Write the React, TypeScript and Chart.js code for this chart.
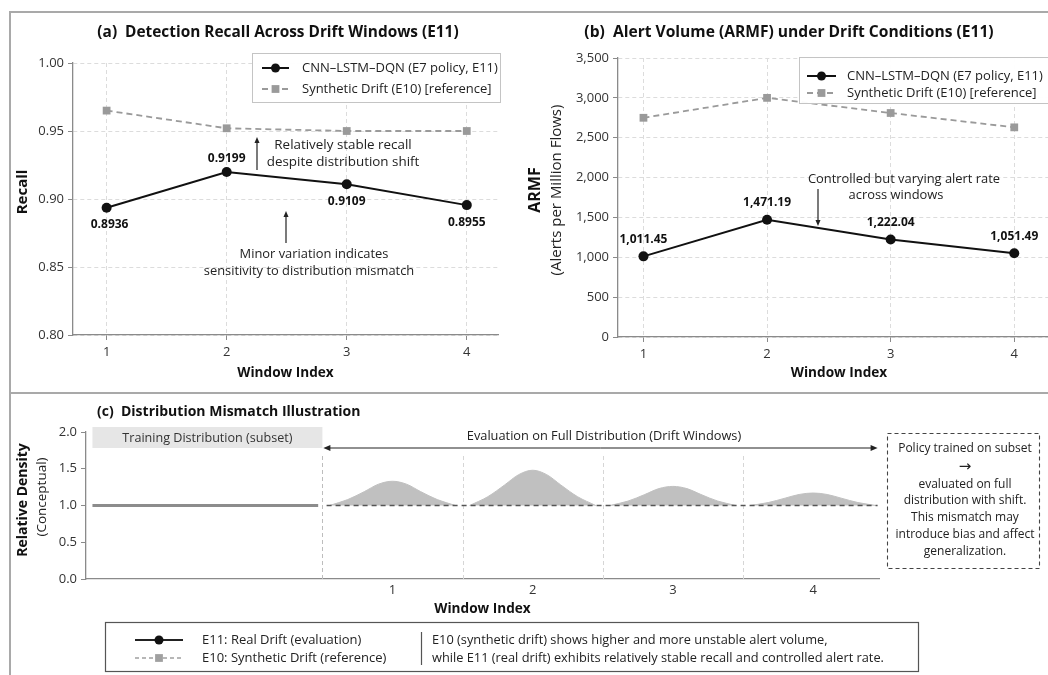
import React, { useEffect, useRef } from "react";
import { Chart, registerables } from "chart.js";

Chart.register(...registerables);

// ---------------- data ----------------
const windowIndex = [1, 2, 3, 4];
const recallReal = [0.8936, 0.9199, 0.9109, 0.8955];
const recallSynthetic = [0.965, 0.952, 0.95, 0.95];
const armfReal = [1011.45, 1471.19, 1222.04, 1051.49];
const armfSynthetic = [2750, 3000, 2810, 2630];
const recallTicks = [0.8, 0.85, 0.9, 0.95, 1.0];
const armfTicks = [0, 500, 1000, 1500, 2000, 2500, 3000, 3500];
const densityTicks = [0, 0.5, 1.0, 1.5, 2.0];
// conceptual density of each drift window (offset from window centre -> relative density)
const bumpOffsets = [-0.45, -0.32, -0.2, -0.1, 0, 0.1, 0.2, 0.32, 0.45];
const densityW1 = [1.0, 1.08, 1.19, 1.29, 1.33, 1.29, 1.19, 1.08, 1.0];
const densityW2 = [1.0, 1.12, 1.28, 1.42, 1.48, 1.42, 1.28, 1.12, 1.0];
const densityW3 = [1.0, 1.06, 1.15, 1.23, 1.26, 1.23, 1.15, 1.06, 1.0];
const densityW4 = [1.0, 1.04, 1.1, 1.15, 1.17, 1.15, 1.1, 1.04, 1.0];
const trainingSpan = [-1.14, 0.47];
const evaluationSpan = [0.53, 4.46];
const baselineDensity = 1.0;
const windowBoundaries = [0.5, 1.5, 2.5, 3.5];

const labelReal = "CNN–LSTM–DQN (E7 policy, E11)";
const labelSynthetic = "Synthetic Drift (E10) [reference]";

// ---------------- helpers ----------------
const FONT = '"Open Sans", "Noto Sans", "DejaVu Sans", sans-serif';
const f = (size: number, weight = "normal") => `${weight} ${size}px ${FONT}`;

function txt(ctx: CanvasRenderingContext2D, s: string, x: number, y: number, font: string, color = "#222", align: CanvasTextAlign = "center") {
  ctx.save();
  ctx.font = font;
  ctx.fillStyle = color;
  ctx.textAlign = align;
  ctx.textBaseline = "middle";
  ctx.fillText(s, x, y);
  ctx.restore();
}
function vtxt(ctx: CanvasRenderingContext2D, s: string, x: number, y: number, font: string, color = "#222") {
  ctx.save();
  ctx.translate(x, y);
  ctx.rotate(-Math.PI / 2);
  ctx.font = font;
  ctx.fillStyle = color;
  ctx.textAlign = "center";
  ctx.textBaseline = "middle";
  ctx.fillText(s, 0, 0);
  ctx.restore();
}
function arrow(ctx: CanvasRenderingContext2D, x1: number, y1: number, x2: number, y2: number, color = "#222", head = 6, w = 1.2) {
  const a = Math.atan2(y2 - y1, x2 - x1);
  ctx.save();
  ctx.strokeStyle = color;
  ctx.fillStyle = color;
  ctx.lineWidth = w;
  ctx.beginPath();
  ctx.moveTo(x1, y1);
  ctx.lineTo(x2 - Math.cos(a) * head * 0.7, y2 - Math.sin(a) * head * 0.7);
  ctx.stroke();
  const bx = x2 - head * Math.cos(a), by = y2 - head * Math.sin(a);
  const px = head * 0.42 * Math.sin(a), py = head * 0.42 * Math.cos(a);
  ctx.beginPath();
  ctx.moveTo(x2, y2);
  ctx.lineTo(bx + px, by - py);
  ctx.lineTo(bx - px, by + py);
  ctx.closePath();
  ctx.fill();
  ctx.restore();
}
function sample(ctx: CanvasRenderingContext2D, ds: any, x1: number, x2: number, y: number, dash?: number[]) {
  ctx.save();
  ctx.strokeStyle = ds.borderColor;
  ctx.lineWidth = ds.borderWidth;
  ctx.setLineDash(dash || ds.borderDash || []);
  ctx.beginPath();
  ctx.moveTo(x1, y);
  ctx.lineTo(x2, y);
  ctx.stroke();
  ctx.setLineDash([]);
  ctx.fillStyle = ds.backgroundColor;
  const xm = (x1 + x2) / 2;
  if (ds.pointStyle === "rect") {
    const s = ds.pointRadius * Math.SQRT1_2;
    ctx.fillRect(xm - s, y - s, 2 * s, 2 * s);
  } else {
    ctx.beginPath();
    ctx.arc(xm, y, ds.pointRadius - 0.5, 0, Math.PI * 2);
    ctx.fill();
  }
  ctx.restore();
}
function legendBox(ctx: CanvasRenderingContext2D, chart: any, x: number, y: number, w: number, h: number, rows: number[], sx1: number, sx2: number, tx: number) {
  ctx.save();
  ctx.fillStyle = "rgba(255,255,255,0.95)";
  ctx.fillRect(x, y, w, h);
  ctx.strokeStyle = "#c4c4c4";
  ctx.lineWidth = 1;
  ctx.strokeRect(x + 0.5, y + 0.5, w, h);
  ctx.restore();
  chart.data.datasets.forEach((ds: any, i: number) => {
    sample(ctx, ds, sx1, sx2, rows[i]);
    txt(ctx, ds.label, tx, rows[i], f(13), "#222", "left");
  });
}

const tickFont = { family: FONT, size: 13 };
const gridDashed = { color: "#dcdcdc", lineWidth: 1, tickColor: "#8a8a8a", tickLength: 5, tickWidth: 1, tickBorderDash: [] as number[] };
const borderDashed = { color: "#8a8a8a", width: 1.3, dash: [4, 3] };

function lineDatasets(real: number[], synth: number[]) {
  return [
    {
      label: labelReal,
      data: windowIndex.map((w, i) => ({ x: w, y: real[i] })),
      borderColor: "#111",
      backgroundColor: "#111",
      borderWidth: 2,
      pointStyle: "circle",
      pointRadius: 5,
      pointBorderWidth: 0,
      order: 0,
    },
    {
      label: labelSynthetic,
      data: windowIndex.map((w, i) => ({ x: w, y: synth[i] })),
      borderColor: "#9a9a9a",
      backgroundColor: "#9a9a9a",
      borderWidth: 1.8,
      borderDash: [6, 4],
      pointStyle: "rect",
      pointRadius: 5.5,
      pointBorderWidth: 0,
      order: 1,
    },
  ];
}

// ---------------- chart (a) ----------------
function makeA(): any {
  const overlay = {
    id: "overlayA",
    afterDraw(chart: any) {
      const ctx = chart.ctx as CanvasRenderingContext2D;
      txt(ctx, "(a)  Detection Recall Across Drift Windows (E11)", 278, 33, f(15.4, "bold"), "#111");
      vtxt(ctx, "Recall", 23, 192, f(15, "bold"), "#111");
      legendBox(ctx, chart, 252, 53, 248, 49, [68, 89], 262, 289, 302);
      const meta = chart.getDatasetMeta(0);
      meta.data.forEach((p: any, i: number) => {
        const dy = i === 1 ? -13 : 17;
        txt(ctx, recallReal[i].toFixed(4), p.x + (i === 0 ? 3 : 0), p.y + dy, f(12, "bold"), "#111");
      });
      arrow(ctx, 257, 170, 257, 137);
      txt(ctx, "Relatively stable recall", 343, 145, f(13.4));
      txt(ctx, "despite distribution shift", 343, 162, f(13.4));
      arrow(ctx, 286, 243, 286, 211);
      txt(ctx, "Minor variation indicates", 314, 254, f(12.9));
      txt(ctx, "sensitivity to distribution mismatch", 309, 271, f(12.9));
    },
  };
  return {
    type: "line",
    data: { datasets: lineDatasets(recallReal, recallSynthetic) },
    options: {
      responsive: false,
      animation: false,
      layout: { padding: { left: 0, top: 63, right: 26, bottom: 0 } },
      plugins: { legend: { display: false }, tooltip: { enabled: false } },
      scales: {
        x: {
          type: "linear",
          min: 0.72,
          max: 4.26,
          afterBuildTicks: (s: any) => { s.ticks = windowIndex.map((v) => ({ value: v })); },
          afterFit: (s: any) => { s.height = 58; },
          grid: gridDashed,
          border: borderDashed,
          ticks: { font: tickFont, color: "#333", padding: 4, callback: (v: any) => String(v) },
          title: { display: true, text: "Window Index", font: { family: FONT, size: 13.6, weight: "bold" }, color: "#111", padding: { top: 0, bottom: 12 } },
        },
        y: {
          type: "linear",
          min: 0.8,
          max: 1.0,
          afterBuildTicks: (s: any) => { s.ticks = recallTicks.map((v) => ({ value: v })); },
          afterFit: (s: any) => { s.width = 73; },
          grid: gridDashed,
          border: borderDashed,
          ticks: { font: tickFont, color: "#333", padding: 4, callback: (v: any) => Number(v).toFixed(2) },
        },
      },
    },
    plugins: [overlay],
  };
}

// ---------------- chart (b) ----------------
function makeB(): any {
  const overlay = {
    id: "overlayB",
    afterDraw(chart: any) {
      const ctx = chart.ctx as CanvasRenderingContext2D;
      txt(ctx, "(b)  Alert Volume (ARMF) under Drift Conditions (E11)", 265, 33, f(15.6, "bold"), "#111");
      vtxt(ctx, "ARMF", 11, 190, f(16, "bold"), "#111");
      vtxt(ctx, "(Alerts per Million Flows)", 33, 190, f(15), "#222");
      legendBox(ctx, chart, 275, 57, 280, 46, [76, 93], 283, 312, 323);
      const meta = chart.getDatasetMeta(0);
      meta.data.forEach((p: any, i: number) => {
        txt(ctx, armfReal[i].toLocaleString("en-US", { minimumFractionDigits: 2, maximumFractionDigits: 2 }), p.x, p.y - 17, f(12, "bold"), "#111");
      });
      arrow(ctx, 294, 189, 294, 226);
      txt(ctx, "Controlled but varying alert rate", 380, 179, f(12.9));
      txt(ctx, "across windows", 372, 195, f(12.9));
    },
  };
  return {
    type: "line",
    data: { datasets: lineDatasets(armfReal, armfSynthetic) },
    options: {
      responsive: false,
      animation: false,
      layout: { padding: { left: 0, top: 58, right: 64, bottom: 0 } },
      plugins: { legend: { display: false }, tooltip: { enabled: false } },
      scales: {
        x: {
          type: "linear",
          min: 0.794,
          max: 4.37,
          afterBuildTicks: (s: any) => { s.ticks = windowIndex.map((v) => ({ value: v })); },
          afterFit: (s: any) => { s.height = 56; },
          grid: gridDashed,
          border: borderDashed,
          ticks: { font: tickFont, color: "#333", padding: 4, callback: (v: any) => String(v) },
          title: { display: true, text: "Window Index", font: { family: FONT, size: 13.6, weight: "bold" }, color: "#111", padding: { top: 0, bottom: 12 } },
        },
        y: {
          type: "linear",
          min: 0,
          max: 3500,
          afterBuildTicks: (s: any) => { s.ticks = armfTicks.map((v) => ({ value: v })); },
          afterFit: (s: any) => { s.width = 94; },
          grid: gridDashed,
          border: borderDashed,
          ticks: { font: tickFont, color: "#333", padding: 4, callback: (v: any) => Number(v).toLocaleString("en-US") },
        },
      },
    },
    plugins: [overlay],
  };
}

// ---------------- chart (c) ----------------
function makeC(): any {
  const bumps = [densityW1, densityW2, densityW3, densityW4].map((vals, k) => ({
    label: `Window ${windowIndex[k]}`,
    data: bumpOffsets.map((o, i) => ({ x: windowIndex[k] + o, y: vals[i] })),
    borderColor: "#c0c0c0",
    backgroundColor: "#c0c0c0",
    borderWidth: 1,
    pointRadius: 0,
    cubicInterpolationMode: "monotone",
    fill: { value: baselineDensity },
    order: 2,
  }));
  const overlayBefore = {
    id: "overlayCBefore",
    beforeDatasetsDraw(chart: any) {
      const ctx = chart.ctx as CanvasRenderingContext2D;
      const xs = chart.scales.x;
      const area = chart.chartArea;
      ctx.save();
      ctx.lineWidth = 1;
      ctx.setLineDash([4, 3]);
      windowBoundaries.forEach((b, i) => {
        const x = Math.round(xs.getPixelForValue(b)) + 0.5;
        ctx.strokeStyle = i === 0 ? "#bdbdbd" : "#d6d6d6";
        ctx.beginPath();
        ctx.moveTo(x, 63);
        ctx.lineTo(x, area.bottom);
        ctx.stroke();
      });
      ctx.restore();
    },
  };
  const overlay = {
    id: "overlayC",
    afterDraw(chart: any) {
      const ctx = chart.ctx as CanvasRenderingContext2D;
      const xs = chart.scales.x;
      txt(ctx, "(c)  Distribution Mismatch Illustration", 97, 19, f(14, "bold"), "#111", "left");
      vtxt(ctx, "Relative Density", 23, 107, f(14, "bold"), "#111");
      vtxt(ctx, "(Conceptual)", 42, 104, f(13.5), "#222");
      const tx1 = xs.getPixelForValue(trainingSpan[0]);
      const tx2 = xs.getPixelForValue(windowBoundaries[0]);
      ctx.save();
      ctx.fillStyle = "#e6e6e6";
      ctx.fillRect(tx1, 34, tx2 - tx1, 21);
      ctx.restore();
      txt(ctx, "Training Distribution (subset)", (tx1 + tx2) / 2, 45, f(12.6), "#333");
      const ex1 = xs.getPixelForValue(windowBoundaries[0]) + 1;
      const ex2 = xs.getPixelForValue(evaluationSpan[1]);
      arrow(ctx, (ex1 + ex2) / 2, 55, ex2, 55, "#222", 7, 1.2);
      arrow(ctx, (ex1 + ex2) / 2, 55, ex1, 55, "#222", 7, 1.2);
      txt(ctx, "Evaluation on Full Distribution (Drift Windows)", 604, 43, f(12.8), "#222");
      ctx.save();
      ctx.strokeStyle = "#444";
      ctx.lineWidth = 1.1;
      ctx.setLineDash([4, 3]);
      ctx.strokeRect(887.5, 40.5, 152, 135);
      ctx.restore();
      const noteLines = ["Policy trained on subset", "→", "evaluated on full", "distribution with shift.", "This mismatch may", "introduce bias and affect", "generalization."];
      const noteY = [56, 74, 92, 108, 125, 142, 159];
      noteLines.forEach((s, i) => txt(ctx, s, 965, noteY[i], i === 1 ? f(15) : f(12), "#222"));
      ctx.save();
      ctx.fillStyle = "#fff";
      ctx.fillRect(105, 229, 813, 49);
      ctx.strokeStyle = "#555";
      ctx.lineWidth = 1.2;
      ctx.strokeRect(105.5, 229.5, 813, 49);
      ctx.beginPath();
      ctx.moveTo(421.5, 239);
      ctx.lineTo(421.5, 272);
      ctx.stroke();
      ctx.restore();
      const dsA = { borderColor: "#222", backgroundColor: "#111", borderWidth: 2, pointStyle: "circle", pointRadius: 5 };
      const dsB = { borderColor: "#a0a0a0", backgroundColor: "#a0a0a0", borderWidth: 1.5, pointStyle: "rect", pointRadius: 5.5, borderDash: [4, 3] };
      sample(ctx, dsA, 135, 183, 247);
      sample(ctx, dsB, 135, 183, 265);
      txt(ctx, "E11: Real Drift (evaluation)", 202, 247, f(13), "#222", "left");
      txt(ctx, "E10: Synthetic Drift (reference)", 202, 265, f(13), "#222", "left");
      txt(ctx, "E10 (synthetic drift) shows higher and more unstable alert volume,", 432, 247, f(12.8), "#222", "left");
      txt(ctx, "while E11 (real drift) exhibits relatively stable recall and controlled alert rate.", 432, 265, f(12.8), "#222", "left");
    },
  };
  return {
    type: "line",
    data: {
      datasets: [
        {
          label: "Evaluation baseline",
          data: evaluationSpan.map((x) => ({ x, y: baselineDensity })),
          borderColor: "#555",
          borderWidth: 1.3,
          borderDash: [5, 4],
          pointRadius: 0,
          order: 0,
        },
        {
          label: "Training distribution",
          data: trainingSpan.map((x) => ({ x, y: baselineDensity })),
          borderColor: "#8c8c8c",
          borderWidth: 3,
          pointRadius: 0,
          order: 1,
        },
        ...bumps,
      ],
    },
    options: {
      responsive: false,
      animation: false,
      layout: { padding: { left: 0, top: 39, right: 169, bottom: 0 } },
      plugins: { legend: { display: false }, tooltip: { enabled: false } },
      scales: {
        x: {
          type: "linear",
          min: -1.186,
          max: 4.47,
          afterBuildTicks: (s: any) => { s.ticks = windowIndex.map((v) => ({ value: v })); },
          afterFit: (s: any) => { s.height = 96; },
          grid: { display: false, drawTicks: false, tickLength: 0 },
          border: { color: "#8a8a8a", width: 1.3 },
          ticks: { font: tickFont, color: "#333", padding: 3, callback: (v: any) => String(v) },
          title: { display: true, text: "Window Index", font: { family: FONT, size: 13.6, weight: "bold" }, color: "#111", padding: { top: 0, bottom: 58 } },
        },
        y: {
          type: "linear",
          min: 0,
          max: 2.0,
          afterBuildTicks: (s: any) => { s.ticks = densityTicks.map((v) => ({ value: v })); },
          afterFit: (s: any) => { s.width = 86; },
          grid: { drawOnChartArea: false, drawTicks: true, tickLength: 5, tickColor: "#8a8a8a" },
          border: { color: "#8a8a8a", width: 1.3 },
          ticks: { font: tickFont, color: "#333", padding: 4, callback: (v: any) => Number(v).toFixed(1) },
        },
      },
    },
    plugins: [overlayBefore, overlay],
  };
}

function ChartCanvas({ make, left, top, width, height }: { make: () => any; left: number; top: number; width: number; height: number }) {
  const ref = useRef<HTMLCanvasElement | null>(null);
  useEffect(() => {
    const chart = new Chart(ref.current as HTMLCanvasElement, make());
    return () => chart.destroy();
  }, []);
  return <canvas ref={ref} width={width} height={height} style={{ position: "absolute", left, top, width, height, display: "block" }} />;
}

export default function App() {
  return (
    <div style={{ position: "fixed", left: 0, top: 0, width: 1048, height: 675, overflow: "hidden", background: "#fff" }}>
      <ChartCanvas make={makeA} left={0} top={0} width={524} height={393} />
      <ChartCanvas make={makeB} left={524} top={0} width={600} height={393} />
      <ChartCanvas make={makeC} left={0} top={393} width={1048} height={282} />
      <div style={{ position: "absolute", left: 9, top: 11, width: 1100, height: 700, borderLeft: "2px solid #a9a9a9", borderTop: "2px solid #a9a9a9", pointerEvents: "none" }} />
      <div style={{ position: "absolute", left: 10, top: 392, width: 1100, height: 0, borderTop: "2px solid #a9a9a9", pointerEvents: "none" }} />
    </div>
  );
}
